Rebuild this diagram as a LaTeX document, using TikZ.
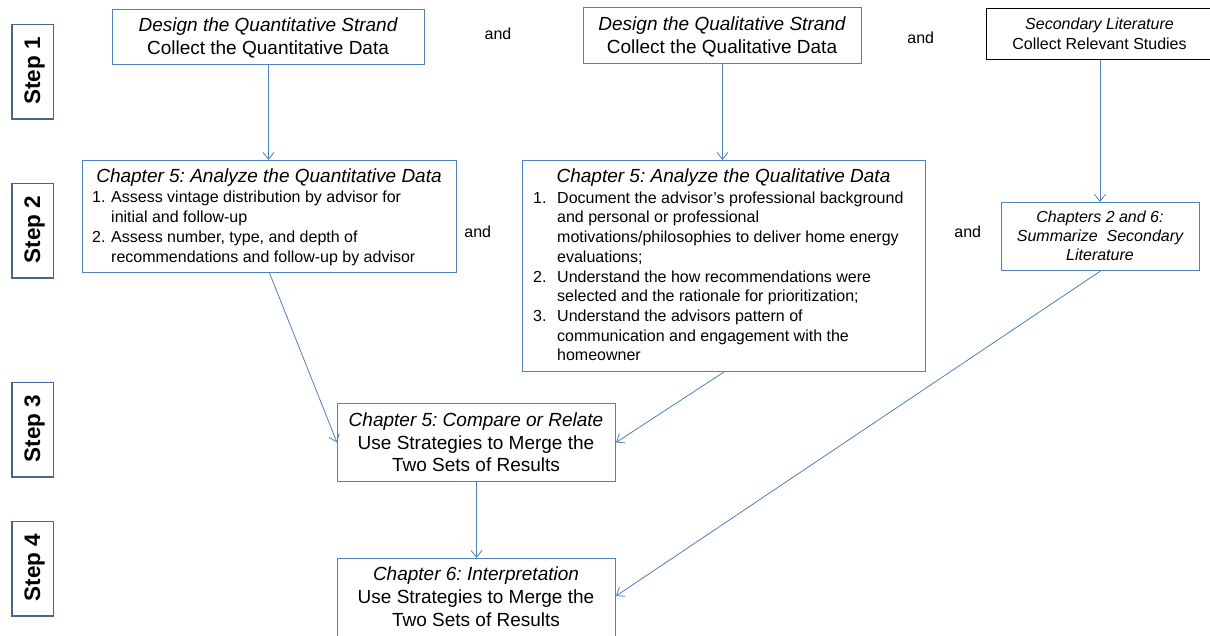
\documentclass[tikz,border=0pt]{standalone}
\usepackage{fontspec}
\setmainfont{Liberation Sans}
\usetikzlibrary{arrows.meta,calc}
\frenchspacing

\definecolor{linkblue}{RGB}{79,129,189}
\definecolor{stepedge}{RGB}{70,100,150}

\tikzset{
  box/.style={draw=linkblue, line width=1pt, anchor=north west, inner sep=0pt},
  plainbox/.style={box, draw=black},
  stepbox/.style={draw=stepedge, line width=1.3pt, anchor=north west, inner sep=0pt},
  steplabel/.style={rotate=90, anchor=base, inner sep=0pt, font=\fontsize{22.5}{24}\selectfont\bfseries},
  big/.style={anchor=base, inner sep=0pt, font=\fontsize{19}{23}\selectfont},
  bigit/.style={anchor=base, inner sep=0pt, font=\fontsize{19}{23}\selectfont\itshape},
  small/.style={anchor=base, inner sep=0pt, font=\fontsize{16}{19.7}\selectfont},
  smallit/.style={anchor=base, inner sep=0pt, font=\fontsize{16}{19.7}\selectfont\itshape},
  item/.style={anchor=base west, inner sep=0pt, font=\fontsize{16}{19.7}\selectfont},
  flow/.style={draw=linkblue, line width=0.8pt, -{Straight Barb[length=7pt,width=11pt]}},
}

\begin{document}
\begin{tikzpicture}[x=1pt,y=-1pt]
\fill[white] (0,0) rectangle (1210,636);
\useasboundingbox (0,0) rectangle (1210,636);

% step markers on the left
\foreach \n/\top/\mid in {1/24/71, 2/183/229.5, 3/382/428.5, 4/521/567.5}{
  \node[stepbox, minimum width=41pt, minimum height=94pt] (step\n) at (12,\top) {};
  \draw[stepedge, line width=2pt] (step\n.north west) -- (step\n.south west) -- (step\n.south east);
  \node[steplabel] (steplbl\n) at (40,\mid) {Step \n};
}

% step 1: design and collect
\node[box, minimum width=312pt, minimum height=55pt] (qtA) at (112,9) {};
\node[bigit] (qtA1) at (268,32) {Design the Quantitative Strand};
\node[big]   (qtA2) at (268,55) {Collect the Quantitative Data};

\node[box, minimum width=278pt, minimum height=56pt] (qlB) at (583,7) {};
\node[bigit] (qlB1) at (722,31) {Design the Qualitative Strand};
\node[big]   (qlB2) at (722,54) {Collect the Qualitative Data};

\node[plainbox, minimum width=227pt, minimum height=51pt] (sec) at (986,8) {};
\node[smallit] (sec1) at (1099.5,30) {Secondary Literature};
\node[small]   (sec2) at (1099.5,50) {Collect Relevant Studies};

\node[small] (and1) at (498,39.3) {and};
\node[small] (and2) at (920.7,43.5) {and};

% step 2: analysis
\node[box, minimum width=374pt, minimum height=112pt] (qtD) at (82,160) {};
\node[bigit] (qtD0) at (269,183) {Chapter 5: Analyze the Quantitative Data};
\node[item] (qtDn1) at (92,203) {1.};
\node[item] (qtD1) at (111,203) {Assess vintage distribution by advisor for};
\node[item] (qtD2) at (111,222.7) {initial and follow-up};
\node[item] (qtDn2) at (92,242.4) {2.};
\node[item] (qtD3) at (111,242.4) {Assess number, type, and depth of};
\node[item] (qtD4) at (111,262.1) {recommendations and follow-up by advisor};

\node[box, minimum width=403pt, minimum height=211pt] (qlE) at (522,160) {};
\node[bigit] (qlE0) at (723.5,183) {Chapter 5: Analyze the Qualitative Data};
\node[item] (qlEn1) at (533,203.3) {1.};
\node[item] (qlE1) at (557,203.3) {Document the advisor’s professional background};
\node[item] (qlE2) at (557,223.0) {and personal or professional};
\node[item] (qlE3) at (557,242.7) {motivations/philosophies to deliver home energy};
\node[item] (qlE4) at (557,262.4) {evaluations;};
\node[item] (qlEn2) at (533,282.1) {2.};
\node[item] (qlE5) at (557,282.1) {Understand the how recommendations were};
\node[item] (qlE6) at (557,301.8) {selected and the rationale for prioritization;};
\node[item] (qlEn3) at (533,321.5) {3.};
\node[item] (qlE7) at (557,321.5) {Understand the advisors pattern of};
\node[item] (qlE8) at (557,341.2) {communication and engagement with the};
\node[item] (qlE9) at (557,360.9) {homeowner};

\node[box, minimum width=198pt, minimum height=68pt] (secF) at (1001,202) {};
\node[smallit] (secF1) at (1100,222.7) {Chapters 2 and 6:};
\node[smallit] (secF2) at (1100,241.7) {Summarize\ \ Secondary};
\node[smallit] (secF3) at (1100,261) {Literature};

\node[small] (and3) at (477.7,237.7) {and};
\node[small] (and4) at (967.7,237.7) {and};

% step 3: merge
\node[box, minimum width=278pt, minimum height=78pt] (cmp) at (337,403) {};
\node[bigit] (cmp1) at (476,426) {Chapter 5: Compare or Relate};
\node[big]   (cmp2) at (476,449.3) {Use Strategies to Merge the};
\node[big]   (cmp3) at (476,471.7) {Two Sets of Results};

% step 4: interpretation
\node[box, minimum width=278pt, minimum height=92pt] (itp) at (337,558) {};
\node[bigit] (itp1) at (476,580.5) {Chapter 6: Interpretation};
\node[big]   (itp2) at (476,603.5) {Use Strategies to Merge the};
\node[big]   (itp3) at (476,626) {Two Sets of Results};
\path (itp.north east) ++(0,38) coordinate (itpR);

% connectors
\draw[flow] (qtA.south) -- (qtA.south |- qtD.north);
\draw[flow] (qlB.south) -- (qlB.south |- qlE.north);
\draw[flow] (sec.south) -- (sec.south |- secF.north);
\draw[flow] (qtD.south) -- (cmp.west);
\draw[flow] (qlE.south) -- (cmp.east);
\draw[flow] (cmp.south) -- (itp.north);
\draw[flow] (secF.south) -- (itpR);
\end{tikzpicture}
\end{document}
